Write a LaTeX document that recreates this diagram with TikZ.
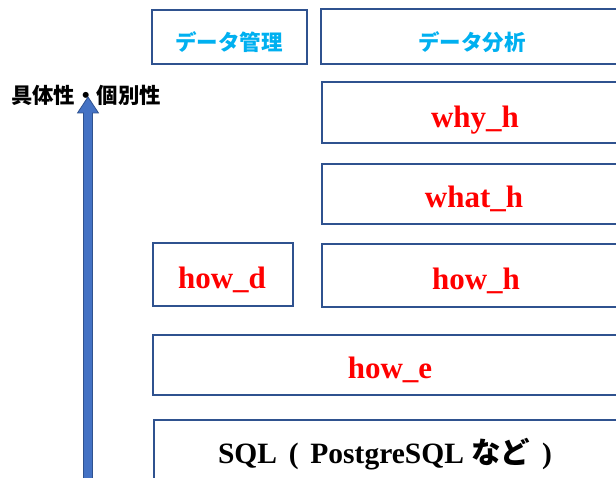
\documentclass[tikz,border=0pt]{standalone}
\usepackage{fontspec}
\setmainfont{Liberation Serif}
\newfontfamily\jp{Noto Sans CJK JP}
\definecolor{boxblue}{HTML}{2F528F}
\definecolor{arrowblue}{HTML}{4472C4}
\definecolor{cyanlbl}{HTML}{00B0F0}
\definecolor{redlbl}{HTML}{FF0000}
\begin{document}
\begin{tikzpicture}[x=1pt,y=-1pt,
  box/.style={draw=boxblue,line width=2.2pt,fill=white,inner sep=0pt,anchor=north west},
  headlbl/.style={font=\jp\bfseries\fontsize{21.5}{24}\selectfont,text=cyanlbl,inner sep=0pt},
  redtxt/.style={font=\bfseries\fontsize{31}{36}\selectfont,text=redlbl,anchor=base,inner sep=0pt},
  sqltxt/.style={font=\bfseries\fontsize{29.5}{34}\selectfont,text=black,anchor=base,inner sep=0pt},
  sidelbl/.style={font=\jp\bfseries\fontsize{21.4}{24}\selectfont,text=black,inner sep=0pt}
]
\useasboundingbox (0,0) rectangle (616,478);
\clip (0,0) rectangle (616,478);
% boxes
\node[box,minimum width=155pt,minimum height=54pt] (dk) at (151,9) {};
\node[box,minimum width=320pt,minimum height=55pt] (da) at (320,8) {};
\node[box,minimum width=320pt,minimum height=61pt] (why) at (321,81) {};
\node[box,minimum width=320pt,minimum height=60pt] (what) at (321,163) {};
\node[box,minimum width=140pt,minimum height=63pt] (howd) at (152,242) {};
\node[box,minimum width=320pt,minimum height=63pt] (howh) at (321,243) {};
\node[box,minimum width=490pt,minimum height=60pt] (howe) at (152,334) {};
\node[box,minimum width=490pt,minimum height=90pt] (sql) at (153,419) {};
% labels
\node[headlbl] (tdk) at (229,42) {データ管理};
\node[headlbl] (tda) at (472,42) {データ分析};
\node[redtxt] (twhy) at (475,128) {why\_h};
\node[redtxt] (twhat) at (474,208) {what\_h};
\node[redtxt] (thowh) at (476,290) {how\_h};
\node[redtxt] (thowd) at (222,289) {how\_d};
\node[redtxt] (thowe) at (390,378) {how\_e};
\node[sqltxt] (tsql) at (385,463) {SQL\hspace{0.4em}(\hspace{0.4em}PostgreSQL {\jp\bfseries など}\hspace{0.4em})};
\node[sidelbl] (side) at (86,95) {具体性・個別性};
% arrow
\coordinate (abot) at (88,490);
\coordinate (atip) at (88,97);
\filldraw[fill=arrowblue,draw=boxblue,line width=0.8pt]
  ([xshift=-4.5pt]abot) -- ([xshift=-4.5pt]atip |- 0,113) -- ([xshift=-10.5pt]atip |- 0,113)
  -- (atip) -- ([xshift=10.5pt]atip |- 0,113) -- ([xshift=4.5pt]atip |- 0,113)
  -- ([xshift=4.5pt]abot) -- cycle;
\end{tikzpicture}
\end{document}
